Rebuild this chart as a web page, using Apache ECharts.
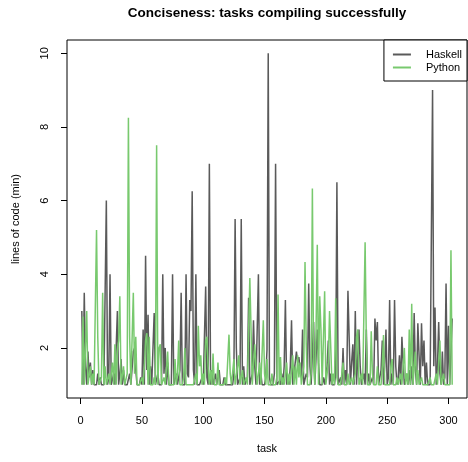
<!DOCTYPE html>
<html>
<head>
<meta charset="utf-8">
<script src="https://cdn.jsdelivr.net/npm/echarts@6/dist/echarts.min.js"></script>
<style>html,body{margin:0;padding:0;background:#fff}#c{width:468px;height:462px}</style>
</head>
<body>
<div id="c"></div>
<script>
var seriesNames = ['Haskell', 'Python'];
var xTicks = [0, 50, 100, 150, 200, 250, 300];
var yTicks = [2, 4, 6, 8, 10];
var haskell = [
3,1,3.5,1.5,1,1.9,1.2,1.6,1,1.4,
1,1,1,1.3,1,1.2,1,1,1,1,
6,1,1.2,4,1,1,1.3,1,1,3,
1,1.3,1.7,1,1.4,1,1,1,1,1.3,
1,1,1.9,2,1.4,1,1,1,1.2,1,
2.5,1,4.5,1.4,2.9,1,1.5,1,1,2.95,
1,1,1.3,1,1,1,4,1.3,2,1,
1.6,1,1,1,4,1,1,1.3,1,1,
1.4,3.5,1,1,1,4,1.3,1.2,3.3,3,
6.25,1.4,1,4,1,1,1,1,1.2,1,
1,3.67,1.2,1,7,1,1.4,1,1,1.3,
1,1,1.4,1,1,1,1.2,1,1,1,
1,1,1,1,1.3,5.5,2,1,1,1.2,
5.5,1,1.5,1,1,1.2,3.36,1,1,1.3,
2.75,1.5,1,1,4,1,1.3,1,1,1,
1.2,1.95,10,1.2,1,1,1,1.3,7,1,
1,1.1,1,1.3,1,1.5,3.3,1,1.2,1,
1.5,2.75,1,1.3,1.3,1.9,1.6,1.75,1.4,1.2,
2.5,1,1,1.3,1.2,3.75,1.5,1,1,2.7,
1,1,2.5,1.6,1,1,1,1.2,1,1,
1.5,2.2,1,1.3,1,1,1,1.3,6.5,1,
1,1.2,1,2,1,1.4,1,3.55,3.55,1,
1.6,2.1,1,3,1,1,2.5,1.5,1,1,
1.3,1,2.5,1,1.3,1,1,1.2,1,2.8,
2.2,2.7,1,1,1.4,2.2,1,1.5,2.5,1,
1.2,3.3,1,1.3,1,3.3,1.5,1,1.2,1.8,
1,2.3,1.6,1,1,1.3,1,1.4,1,1.5,
1,2.95,1.4,1,2.67,1.8,1,2.67,1.5,2.2,
1,1.6,1,1,1,1,9,1.5,3.1,1,
1.5,2.7,1.3,1,1.9,1,1.2,3.75,1,2.6,
1,1,2.8
];
var python = [
1,2.85,1,1,3,1,1,1.5,1,1.3,
1,1,5.2,2.3,1,1,1.2,3.5,1,1.5,
1,1,1.3,1,1,1.6,1,2.1,1,1.9,
2.2,3.4,1,1,1.5,1,1,1.3,8.25,2.3,
1,1,3.5,1.3,2.3,1,1,1,1,1.2,
1,1.5,2.2,2.4,1,2.3,1,1,1,1.2,
1,7.5,1,2,2.1,1,1,1.2,1,1,
1.9,1,1,1,1,1,1.7,1,1.3,2.2,
1,1,1,1.2,2,1,1,1,1,1,
1,1,1,1.3,1,2.6,1.5,1.8,1,1.3,
1,2.2,2.3,1.5,1,1.4,1,1.85,1,1,
1,1.6,1,1,1,1,1,1.2,1,1,
2.36,1.3,1,1,1.7,1,1,1.5,1.8,1,
1,1.4,1,1,1.2,1,1,3.9,2.5,1,
1,2.1,1.5,1,1,1.6,1,1,2.75,1.3,
1,1.7,1,1,1,1.3,1,1,1,1.2,
3.45,1,1.75,1,1.2,1,1,1.6,1,1.3,
1,1,1.8,1,1.5,1,1.8,1.2,1.6,1,
1,1.5,4.33,2.1,1,1,1,1.3,6.33,1.5,
1,2.5,4.8,1,3.4,2.5,1,1,3.54,1,
1,1.6,3,2.95,1,1.3,1,3.35,1.2,1,
1,1,1,1.6,1,1,1,1.3,1,1,
1.2,1,1,1.3,2.3,2.5,1,1,1.3,1,
1,4.87,2.2,1,1,1,2.45,1.3,1,1,
1,1.5,1,1,1,1.5,2.35,1,1,1,
1,1,1.5,1.7,1,1,1,1.2,1,1,
1.3,1,1.5,2,1,1.3,1,2.5,1,3.2,
1,1,1.9,1,1.4,1,1,1.2,1,1,
1,1,1,1,1.2,1,1,1,1,1.3,
1,1,2.2,1,1,1.3,1,1,1,1,
1,4.65,1
];

function toPairs(arr) { return arr.map(function (v, i) { return [i + 1, v]; }); }

var FONT = "'Liberation Sans', Arial, Helvetica, sans-serif";
var chart = echarts.init(document.getElementById('c'), null, { renderer: 'canvas' });
var nTask = haskell.length;
var xPad = 0.04 * (nTask - 1);
var yPad = 0.04 * 9;
chart.setOption({
  animation: false,
  backgroundColor: '#fff',
  graphic: [{
    type: 'text', x: 267, y: 13,
    style: { text: 'Conciseness: tasks compiling successfully', fontFamily: FONT, fontWeight: 'bold', fontSize: 13.5, fill: '#000', textAlign: 'center', textVerticalAlign: 'middle' }
  }],
  grid: { left: 67, right: 1, top: 40, bottom: 64, show: true, borderColor: '#000', borderWidth: 1, backgroundColor: 'transparent', containLabel: false },
  legend: {
    right: 1, top: 40, orient: 'vertical',
    data: seriesNames,
    icon: 'rect', itemWidth: 18, itemHeight: 2, itemGap: 2,
    padding: [9, 5, 8, 9],
    borderColor: '#000', borderWidth: 1, backgroundColor: '#fff',
    textStyle: { fontFamily: FONT, fontSize: 11, color: '#000', padding: [0, 0, 0, 10] }
  },
  xAxis: {
    type: 'value', min: 1 - xPad, max: nTask + xPad,
    name: 'task', nameLocation: 'middle', nameGap: 45,
    nameTextStyle: { fontFamily: FONT, fontSize: 11, color: '#000' },
    axisLine: { show: false, onZero: false },
    axisTick: { show: true, inside: false, length: 6, lineStyle: { color: '#000' }, customValues: xTicks },
    axisLabel: { fontFamily: FONT, fontSize: 11, color: '#000', margin: 17, customValues: xTicks },
    splitLine: { show: false }
  },
  yAxis: {
    type: 'value', min: 1 - yPad, max: 10 + yPad,
    name: 'lines of code (min)', nameLocation: 'middle', nameGap: 46,
    nameTextStyle: { fontFamily: FONT, fontSize: 11, color: '#000' },
    axisLine: { show: false, onZero: false },
    axisTick: { show: true, inside: false, length: 6, lineStyle: { color: '#000' }, customValues: yTicks },
    axisLabel: { fontFamily: FONT, fontSize: 11, color: '#000', margin: 17, rotate: 90, customValues: yTicks },
    splitLine: { show: false }
  },
  series: [
    { name: seriesNames[0], type: 'line', data: toPairs(haskell), symbol: 'none', lineStyle: { color: '#5a5a5a', width: 1.5 }, itemStyle: { color: '#5a5a5a' } },
    { name: seriesNames[1], type: 'line', data: toPairs(python), symbol: 'none', lineStyle: { color: '#78c96e', width: 1.5 }, itemStyle: { color: '#78c96e' } }
  ]
});
</script>
</body>
</html>
